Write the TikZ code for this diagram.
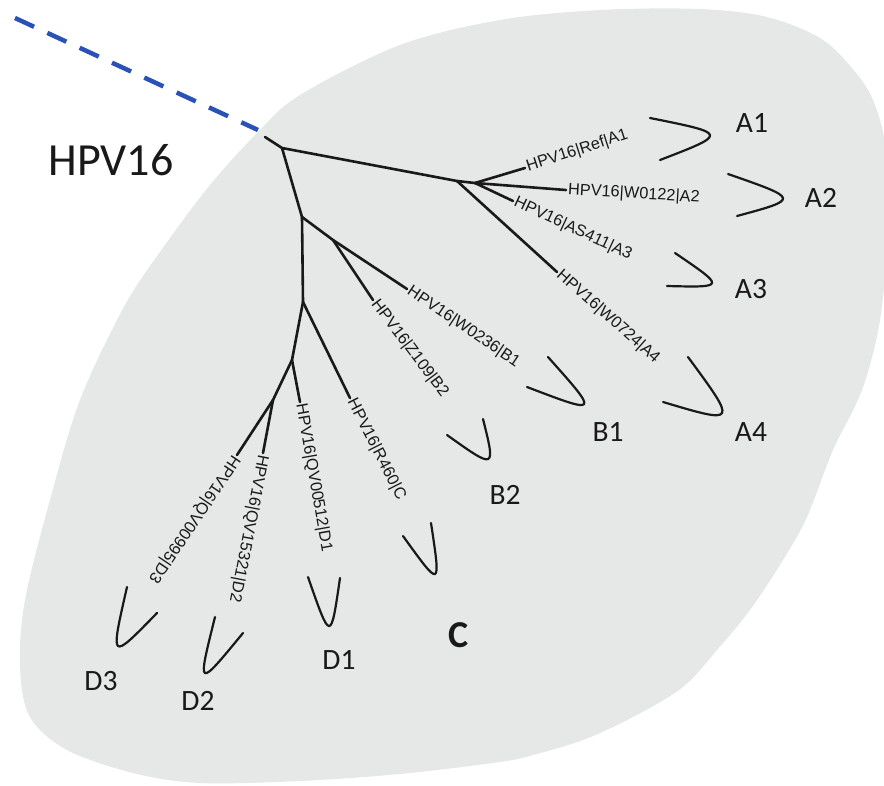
\documentclass[tikz,border=0pt]{standalone}
\usepackage{fontspec}
\setmainfont{Carlito}
\newfontfamily\arialfont{Liberation Sans}
\definecolor{blobgray}{RGB}{230,231,231}
\definecolor{dashblue}{RGB}{42,82,182}
\definecolor{inkc}{RGB}{25,25,25}
\begin{document}
\begin{tikzpicture}[x=1pt,y=-1pt,
  branch/.style={line width=2.6pt, line cap=round, inkc},
  bracket/.style={line width=2.2pt, line cap=round, inkc},
  tiplabel/.style={font=\arialfont\fontsize{16.3}{18}\selectfont, text=inkc, inner sep=2pt, anchor=west},
  sublabel/.style={font=\fontsize{29.5}{32}\selectfont, text=inkc, inner sep=0pt},
  dashlink/.style={line width=4.5pt, dashblue, dash pattern=on 21pt off 14.6pt}
]
\useasboundingbox (0,0) rectangle (884,785);
\clip (0,0) rectangle (884,785);

% background blob
\fill[blobgray] plot[smooth cycle, tension=0.55] coordinates {
  (258,132) (300,95) (400,45) (500,20) (600,10) (700,9) (767,17) (820,38)
  (852,68) (873,100) (886,150) (888,230) (880,320) (862,390) (833,450)
  (807,517) (783,560) (750,610) (717,650) (683,687) (633,717) (583,740)
  (533,755) (500,762) (400,774) (300,781) (200,783) (133,773) (67,750)
  (30,717) (20,667) (25,600) (50,500) (80,400) (125,305) (165,245) (210,185)};

% coordinates of the tree
\coordinate (dstart) at (15,18);
\coordinate (dend) at (258,130);
\coordinate (R0) at (265,137);
\coordinate (N1) at (282,148);
\coordinate (NA) at (457,181);
\coordinate (NA2) at (475,183);
\coordinate (tA1) at (525,168);
\coordinate (tA2) at (566,190);
\coordinate (tA3) at (513,201);
\coordinate (tA4) at (557,272);
\coordinate (N2) at (302,217);
\coordinate (NB) at (333,240);
\coordinate (tB1) at (407,289);
\coordinate (tB2) at (373,300);
\coordinate (N3) at (303,302);
\coordinate (tC) at (350,398);
\coordinate (ND) at (292,360);
\coordinate (tD1) at (300,402);
\coordinate (ND2) at (273,400);
\coordinate (tD2) at (263,453);
\coordinate (tD3) at (237,455);

% dashed link
\draw[dashlink] (dstart) -- (dend);

% branches
\draw[branch] (R0) -- (N1);
\draw[branch] (N1) -- (NA);
\draw[branch] (NA) -- (NA2);
\draw[branch] (NA2) -- (tA1);
\draw[branch] (NA2) -- (tA2);
\draw[branch] (NA2) -- (tA3);
\draw[branch] (NA) -- (tA4);
\draw[branch] (N1) -- (N2);
\draw[branch] (N2) -- (NB);
\draw[branch] (NB) -- (tB1);
\draw[branch] (NB) -- (tB2);
\draw[branch] (N2) -- (N3);
\draw[branch] (N3) -- (tC);
\draw[branch] (N3) -- (ND);
\draw[branch] (ND) -- (tD1);
\draw[branch] (ND) -- (ND2);
\draw[branch] (ND2) -- (tD2);
\draw[branch] (ND2) -- (tD3);

% tip labels
\node[tiplabel, rotate=18] (lA1) at (tA1) {HPV16|Ref|A1};
\node[tiplabel, rotate=-3.5] (lA2) at (tA2) {HPV16|W0122|A2};
\node[tiplabel, rotate=-25] (lA3) at (tA3) {HPV16|AS411|A3};
\node[tiplabel, rotate=-41.5] (lA4) at (tA4) {HPV16|W0724|A4};
\node[tiplabel, rotate=-34] (lB1) at (tB1) {HPV16|W0236|B1};
\node[tiplabel, rotate=-53] (lB2) at (tB2) {HPV16|Z109|B2};
\node[tiplabel, rotate=-63] (lC) at (tC) {HPV16|R460|C};
\node[tiplabel, rotate=-80] (lD1) at (tD1) {HPV16|QV00512|D1};
\node[tiplabel, rotate=-101] (lD2) at (tD2) {HPV16|QV15321|D2};
\node[tiplabel, rotate=-124] (lD3) at (tD3) {HPV16|QV00995|D3};

% brackets
\draw[bracket] (650,118) .. controls (728.3,133.7) and (728.3,133.7) .. (660,160);
\draw[bracket] (728,174) .. controls (799.8,199) and (799.8,199) .. (737,216);
\draw[bracket] (675,253) .. controls (725.7,287.5) and (725.7,287.5) .. (667,286);
\draw[bracket] (688,357) .. controls (737.5,424.2) and (737.5,424.2) .. (663,402);
\draw[bracket] (548,357) .. controls (599.5,414.7) and (599.5,414.7) .. (527,387);
\draw[bracket] (483,419) .. controls (495.7,469.7) and (495.7,469.7) .. (447,435);
\draw[bracket] (431,523) .. controls (441,588.8) and (441,588.8) .. (403,536);
\draw[bracket] (340,578) .. controls (330.7,642.2) and (330.7,642.2) .. (308,577);
\draw[bracket] (215,617) .. controls (197,689) and (197,689) .. (243,633);
\draw[bracket] (127,587) .. controls (110,661.3) and (110,661.3) .. (157,613);

% group labels
\node[font=\fontsize{46}{50}\selectfont, text=inkc, inner sep=0pt] (hpv) at (111,160) {HPV16};
\node[sublabel] (gA1) at (752,123) {A1};
\node[sublabel] (gA2) at (821,198) {A2};
\node[sublabel] (gA3) at (751,289) {A3};
\node[sublabel] (gA4) at (751,432) {A4};
\node[sublabel] (gB1) at (608,432) {B1};
\node[sublabel] (gB2) at (505,495) {B2};
\node[font=\bfseries\fontsize{38}{40}\selectfont, text=inkc, inner sep=0pt] (gC) at (459,635) {C};
\node[sublabel] (gD1) at (339,660) {D1};
\node[sublabel] (gD3) at (101,681) {D3};
\node[sublabel] (gD2) at (198,701) {D2};
\end{tikzpicture}
\end{document}
